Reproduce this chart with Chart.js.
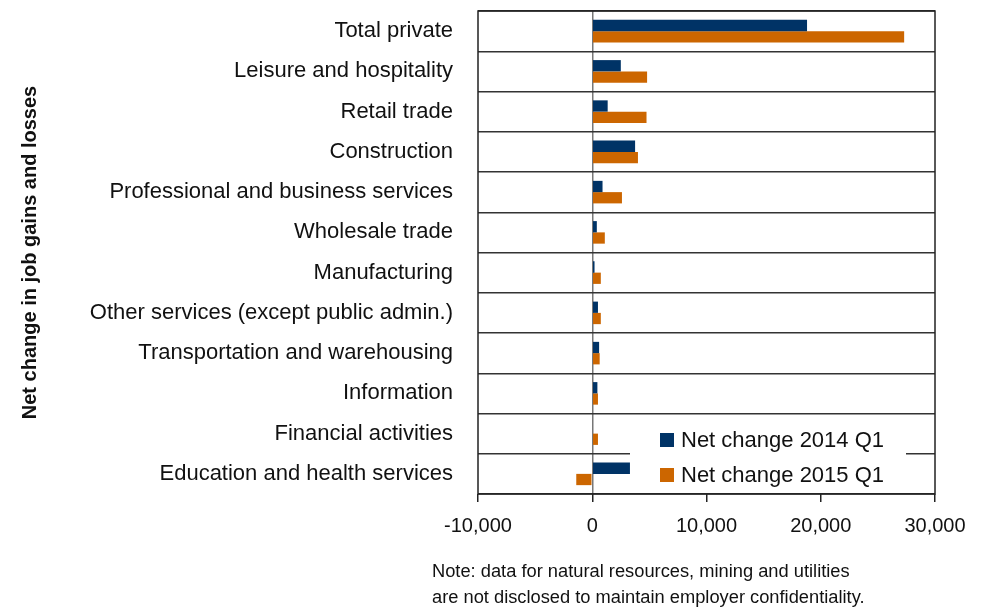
<!DOCTYPE html>
<html>
<head>
<meta charset="utf-8">
<script src="https://cdn.jsdelivr.net/npm/chart.js@4.4.0/dist/chart.umd.min.js"></script>
<style>
  html, body { margin: 0; padding: 0; background: #fff; }
  #wrap { position: relative; width: 985px; height: 607px; }
  #note {
    position: absolute; left: 432px; top: 558px;
    font-family: "Liberation Sans", Arial, sans-serif; font-size: 18.3px;
    line-height: 26px; color: #111;
  }
</style>
</head>
<body>
<div id="wrap">
  <canvas id="chart" width="985" height="607"></canvas>
  <div id="note">Note: data for natural resources, mining and utilities<br>are not disclosed to maintain employer confidentiality.</div>
</div>
<script>
const industries = [
  "Total private",
  "Leisure and hospitality",
  "Retail trade",
  "Construction",
  "Professional and business services",
  "Wholesale trade",
  "Manufacturing",
  "Other services (except public admin.)",
  "Transportation and warehousing",
  "Information",
  "Financial activities",
  "Education and health services"
];
const change2014 = [18800, 2500, 1350, 3750, 900, 400, 200, 500, 600, 450, 0, 3300];
const change2015 = [27300, 4800, 4750, 4000, 2600, 1100, 750, 750, 650, 500, 500, -1400];
const seriesNames = ["Net change 2014 Q1", "Net change 2015 Q1"];
const seriesColors = ["#003366", "#cc6600"];
const xTicks = [-10000, 0, 10000, 20000, 30000];

const font = "'Liberation Sans', Arial, sans-serif";

// frame around plot + legend box drawn inside the plot
const framePlugin = {
  id: "frame",
  afterDraw(chart) {
    const ctx = chart.ctx;
    const a = chart.chartArea;
    ctx.save();
    ctx.strokeStyle = "#222";
    ctx.lineWidth = 1.5;
    ctx.strokeRect(a.left, a.top, a.right - a.left, a.bottom - a.top);

    // legend
    ctx.fillStyle = "#fff";
    ctx.fillRect(630, 418, 276, 74);
    ctx.font = "22px " + font;
    ctx.textBaseline = "middle";
    chart.data.datasets.forEach((ds, i) => {
      const y = 440 + i * 35;
      ctx.fillStyle = ds.backgroundColor;
      ctx.fillRect(660, y - 7, 14, 14);
      ctx.fillStyle = "#111";
      ctx.fillText(ds.label, 681, y + 1);
    });
    ctx.restore();
  }
};

new Chart(document.getElementById("chart"), {
  type: "bar",
  data: {
    labels: industries,
    datasets: [
      { label: seriesNames[0], data: change2014, backgroundColor: seriesColors[0] },
      { label: seriesNames[1], data: change2015, backgroundColor: seriesColors[1] }
    ]
  },
  options: {
    indexAxis: "y",
    responsive: false,
    animation: false,
    events: [],
    layout: { padding: { top: 11, right: 50, bottom: 57, left: 0 } },
    datasets: {
      bar: { barPercentage: 1, categoryPercentage: 0.56 }
    },
    plugins: {
      legend: { display: false },
      tooltip: { enabled: false }
    },
    scales: {
      x: {
        min: -10000,
        max: 30000,
        afterBuildTicks: (scale) => { scale.ticks = xTicks.map(v => ({ value: v })); },
        border: { display: false },
        grid: {
          color: (c) => (c.tick && c.tick.value === 0 ? "#777" : "rgba(0,0,0,0)"),
          lineWidth: 1.5,
          tickColor: "#222",
          tickLength: 8,
          drawTicks: true
        },
        ticks: {
          color: "#111",
          font: { family: font, size: 20 },
          padding: 12,
          maxRotation: 0,
          callback: (v) => v.toLocaleString("en-US")
        }
      },
      y: {
        afterFit: (scale) => { scale.width = 478; },
        border: { display: false },
        grid: {
          color: "#333",
          lineWidth: 1.5,
          offset: true,
          drawTicks: true,
          tickLength: 25,
          tickColor: "rgba(0,0,0,0)"
        },
        ticks: {
          color: "#111",
          font: { family: font, size: 22, lineHeight: 1 },
          padding: 0
        },
        title: {
          display: true,
          text: "Net change in job gains and losses",
          color: "#111",
          font: { family: font, size: 20, weight: "bold" },
          padding: { top: 18, bottom: 0 }
        }
      }
    }
  },
  plugins: [framePlugin]
});
</script>
</body>
</html>
